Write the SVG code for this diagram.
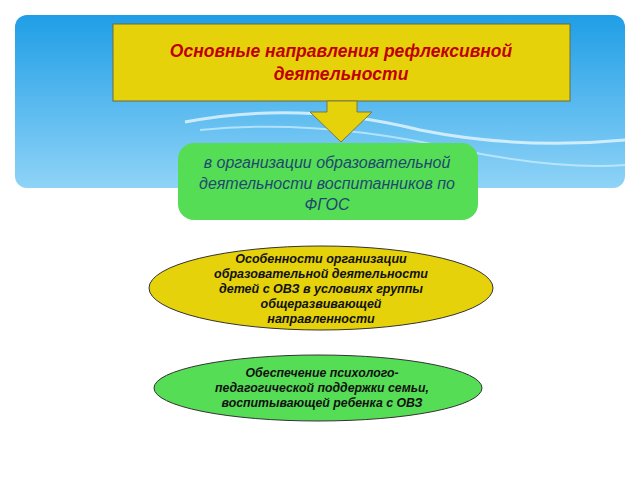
<svg xmlns="http://www.w3.org/2000/svg" width="640" height="480" viewBox="0 0 640 480">
<defs>
<linearGradient id="sky" x1="0" y1="0" x2="0" y2="1">
<stop offset="0" stop-color="#1f9ee6"/><stop offset="1" stop-color="#8fd3f7"/>
</linearGradient>
<style>
.t{font-family:"Liberation Sans",Arial,sans-serif;font-style:italic;text-anchor:middle}
.b{font-weight:bold}
</style>
</defs>
<rect width="640" height="480" fill="#fff"/>
<rect x="15" y="15" width="610" height="173" rx="12" fill="url(#sky)"/>
<path d="M185 122 Q300 100 420 130 Q520 150 625 140" fill="none" stroke="#e6f6ff" stroke-width="3" opacity="0.8"/>
<path d="M200 130 Q320 118 460 150 Q560 170 625 165" fill="none" stroke="#d0efff" stroke-width="2" opacity="0.7"/>
<g id="title">
<rect x="113" y="24" width="457" height="77" fill="#e6d20a" stroke="#6b6b40" stroke-width="1"/>
<text class="t b" x="341" y="57" font-size="17.5" fill="#c00000">Основные направления рефлексивной</text>
<text class="t b" x="341" y="80" font-size="17.5" fill="#c00000">деятельности</text>
</g>
<g id="connectors">
<path d="M327 101 L357 101 L357 112 L372 112 L341 142 L310 112 L327 112 Z" fill="#e6d20a" stroke="#7a7a40" stroke-width="1"/>
</g>
<g id="green">
<rect x="178" y="143" width="300" height="77" rx="16" fill="#55dd55"/>
<text class="t" x="327" y="168" font-size="16" fill="#1e4a6e">в организации образовательной</text>
<text class="t" x="327" y="189" font-size="16" fill="#1e4a6e">деятельности воспитанников по</text>
<text class="t" x="327" y="210" font-size="16" fill="#1e4a6e">ФГОС</text>
</g>
<g id="ellipse1">
<ellipse cx="321" cy="288" rx="172" ry="42" fill="#e6d20a" stroke="#333" stroke-width="1"/>
<text class="t b" x="321" y="263" font-size="12.5" fill="#111">Особенности организации</text>
<text class="t b" x="321" y="278" font-size="12.5" fill="#111">образовательной деятельности</text>
<text class="t b" x="321" y="293" font-size="12.5" fill="#111">детей с ОВЗ в условиях группы</text>
<text class="t b" x="321" y="308" font-size="12.5" fill="#111">общеразвивающей</text>
<text class="t b" x="321" y="323" font-size="12.5" fill="#111">направленности</text>
</g>
<g id="ellipse2">
<ellipse cx="318" cy="388" rx="164" ry="33" fill="#55dd55" stroke="#333" stroke-width="1"/>
<text class="t b" x="322" y="377" font-size="12.3" fill="#111">Обеспечение психолого-</text>
<text class="t b" x="322" y="392" font-size="12.3" fill="#111">педагогической поддержки семьи,</text>
<text class="t b" x="322" y="407" font-size="12.3" fill="#111">воспитывающей ребенка с ОВЗ</text>
</g>
</svg>
